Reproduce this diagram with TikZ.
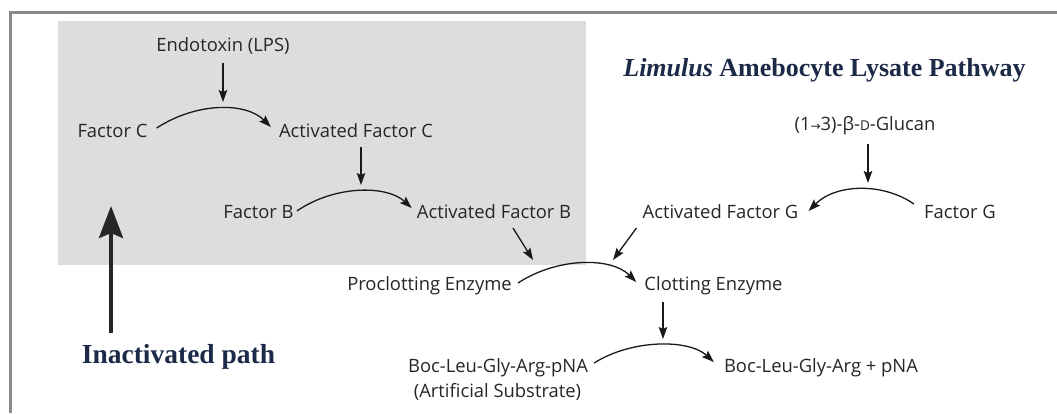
\documentclass[tikz,border=0pt]{standalone}
\usepackage{fontspec}
\setmainfont{Open Sans}
\newfontfamily\tnr{Liberation Serif}
\newfontfamily\djv{DejaVu Sans}
\usetikzlibrary{arrows.meta}
\definecolor{boxgray}{HTML}{DCDDDF}
\definecolor{framegray}{HTML}{8A8A8A}
\definecolor{txt}{HTML}{262626}
\definecolor{navy}{HTML}{1C2A48}
\begin{document}
\begin{tikzpicture}[x=1pt,y=-1pt,
 lbl/.style={inner sep=0pt, anchor=base, text=txt, font=\fontsize{18.4}{20}\selectfont},
 arr/.style={draw=black!90, line width=1.3pt, -{Stealth[length=12pt,width=8.5pt,inset=2pt]}},
 bigarr/.style={draw=black!85, line width=4pt, -{Stealth[length=32pt,width=24pt,inset=5pt]}},
 hdr/.style={inner sep=0pt, anchor=base, text=navy, font=\tnr\bfseries\fontsize{26}{28}\selectfont}]
\useasboundingbox (0,0) rectangle (1057,413);
\fill[boxgray] (58,21) rectangle (586,265);
\draw[framegray, line width=3pt] (10.5,413) -- (10.5,12) -- (1057,12);

% text nodes
\node[lbl] (endo) at (223,51) {Endotoxin (LPS)};
\node[lbl] (fc) at (112.5,137) {Factor C};
\node[lbl] (afc) at (356,137) {Activated Factor C};
\node[lbl] (fb) at (258.5,218) {Factor B};
\node[lbl] (afb) at (494,218) {Activated Factor B};
\node[lbl] (afg) at (720.5,218) {Activated Factor G};
\node[lbl] (fg) at (960,218) {Factor G};
\node[lbl] (glu) at (865,130) {(1{\djv\fontsize{12}{12}\selectfont →}3)-β-{\fontsize{13.5}{14}\selectfont D}-Glucan};
\node[hdr] (title) at (824.5,76) {{\itshape Limulus} Amebocyte Lysate Pathway};
\node[lbl] (pro) at (429.5,290) {Proclotting Enzyme};
\node[lbl] (ce) at (713.5,290) {Clotting Enzyme};
\node[lbl] (sub) at (498,372) {Boc-Leu-Gly-Arg-pNA};
\node[lbl] (art) at (497.5,397) {(Artificial Substrate)};
\node[lbl] (prod) at (821,372) {Boc-Leu-Gly-Arg + pNA};
\node[hdr, font=\tnr\bfseries\fontsize{27.5}{30}\selectfont] (inact) at (178.5,363) {Inactivated path};

% curved reaction arrows
\draw[arr] ([shift={(9,-9)}]fc.base east) .. controls +(40,-26) and +(-25,-25) .. ([shift={(-8,-10)}]afc.base west);
\draw[arr] ([shift={(3,-7)}]fb.base east) .. controls +(38,-26) and +(-25,-23) .. ([shift={(-5,-10)}]afb.base west);
\draw[arr] ([shift={(-10,-14)}]fg.base west) .. controls +(-30,-21) and +(28,-28) .. ([shift={(10,-7)}]afg.base east);
\draw[arr] ([shift={(6,-7)}]pro.base east) .. controls +(40,-26) and +(-25,-25) .. ([shift={(-8,-8)}]ce.base west);
\draw[arr] ([shift={(6,-9)}]sub.base east) .. controls +(38,-24) and +(-25,-23) .. ([shift={(-10,-10)}]prod.base west);

% catalyst arrows
\coordinate (c1) at (223,102);
\coordinate (c2) at (361,185);
\coordinate (c3) at (533,260);
\coordinate (c4) at (613,260);
\coordinate (c5) at (868,183);
\coordinate (c6) at (663,339);
\draw[arr] ([shift={(0,12)}]endo.base -| c1) -- (c1);
\draw[arr] ([shift={(0,10)}]afc.base -| c2) -- (c2);
\draw[arr] ([shift={(19,10)}]afb.base) -- (c3);
\draw[arr] ([shift={(-6,10)}]afg.base west) -- (c4);
\draw[arr] ([shift={(0,14)}]glu.base -| c5) -- (c5);
\draw[arr] ([shift={(0,12)}]ce.base -| c6) -- (c6);

% inactivated path arrow
\coordinate (c7) at (111,206);
\draw[bigarr] ([shift={(0,-30)}]inact.base -| c7) -- (c7);
\end{tikzpicture}
\end{document}
